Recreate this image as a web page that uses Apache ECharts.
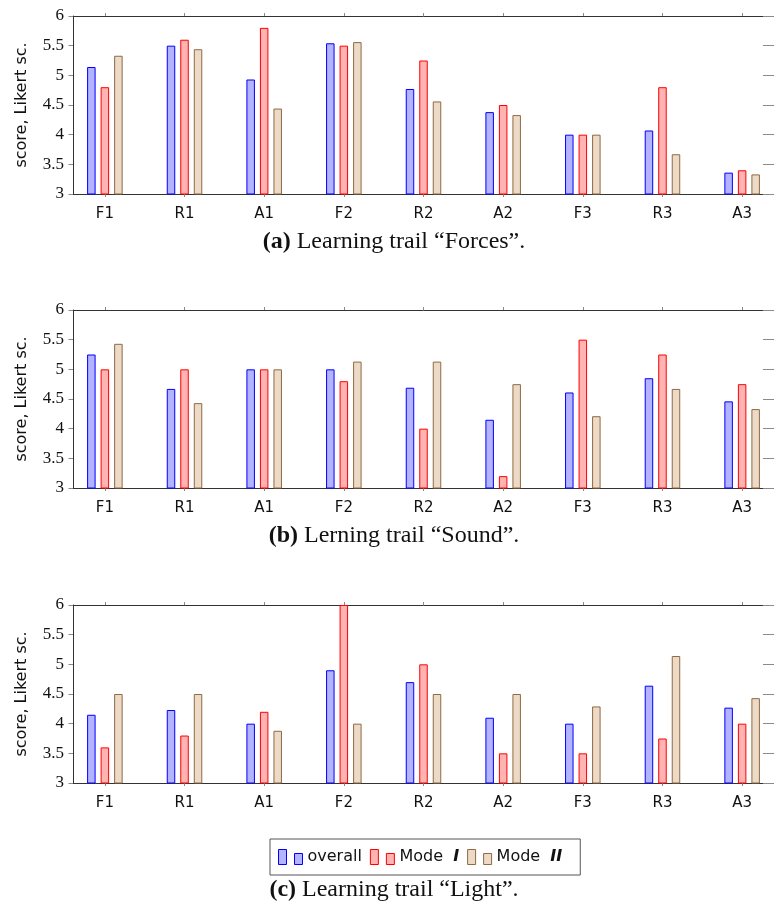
<!DOCTYPE html>
<html>
<head>
<meta charset="utf-8">
<script src="https://cdn.jsdelivr.net/npm/echarts@6/dist/echarts.min.js"></script>
<style>
  html, body { margin: 0; padding: 0; background: #ffffff; }
  #chart { width: 774px; height: 918px; }
</style>
</head>
<body>
<div id="chart"></div>
<script>
// Learning-trail stations shown on the x axis
const categories = ['F1', 'R1', 'A1', 'F2', 'R2', 'A2', 'F3', 'R3', 'A3'];
const seriesNames = ['overall', 'Mode I', 'Mode II'];

// Trail "Forces"
const forcesOverall = [5.14, 5.5, 4.93, 5.54, 4.77, 4.38, 4.0, 4.07, 3.36];
const forcesModeI   = [4.8, 5.6, 5.8, 5.5, 5.25, 4.5, 4.0, 4.8, 3.4];
const forcesModeII  = [5.33, 5.44, 4.44, 5.56, 4.56, 4.33, 4.0, 3.67, 3.33];

// Trail "Sound"
const soundOverall = [5.25, 4.67, 5.0, 5.0, 4.69, 4.15, 4.61, 4.85, 4.46];
const soundModeI   = [5.0, 5.0, 5.0, 4.8, 4.0, 3.2, 5.5, 5.25, 4.75];
const soundModeII  = [5.43, 4.43, 5.0, 5.13, 5.13, 4.75, 4.21, 4.67, 4.33];

// Trail "Light"
const lightOverall = [4.15, 4.23, 4.0, 4.9, 4.7, 4.1, 4.0, 4.64, 4.27];
const lightModeI   = [3.6, 3.8, 4.2, 6.0, 5.0, 3.5, 3.5, 3.75, 4.0];
const lightModeII  = [4.5, 4.5, 3.88, 4.0, 4.5, 4.5, 4.29, 5.14, 4.43];

// Score axis
const yMin = 3;
const yMax = 6;
const yStep = 0.5;
const yAxisTitle = 'score, Likert sc.';

// Sub-figure captions
const captionTags = ['(a)', '(b)', '(c)'];
const captionTexts = ['Learning trail \u201cForces\u201d.', 'Lerning trail \u201cSound\u201d.', 'Learning trail \u201cLight\u201d.'];

const panels = [
  [forcesOverall, forcesModeI, forcesModeII],
  [soundOverall, soundModeI, soundModeII],
  [lightOverall, lightModeI, lightModeII]
];

// ---- styling / layout ----
const fills   = ['#b3b3ff', '#ffb3b3', '#ecd9c6'];
const strokes = ['#0000ff', '#ff0000', '#8f6a45'];
const gridTops = [16, 310, 605];
const gridHeight = 178;
const gridLeft = 73;
const gridWidth = 706;   // right frame edge lies just past the canvas
const sansFont = 'DejaVu Sans';
const serifFont = 'Liberation Serif';
const frameColor = '#333333';
const tickColor = '#8a8a8a';
const captionY = [242, 536, 890];
const captionX = 394;

const catIdx = categories.map((_, i) => i);

const chart = echarts.init(document.getElementById('chart'), null, { renderer: 'canvas' });

const grids = [], xAxes = [], yAxes = [], series = [];

panels.forEach((panel, p) => {
  grids.push({ left: gridLeft, width: gridWidth, top: gridTops[p], height: gridHeight, containLabel: false });

  // bottom category axis (numeric positions so the outer margin can be set freely)
  xAxes.push({
    type: 'value', gridIndex: p, position: 'bottom',
    min: -0.4, max: categories.length - 1 + 0.4,
    axisLine: { show: true, onZero: false, lineStyle: { color: frameColor, width: 1 } },
    axisTick: { show: true, customValues: catIdx, length: 3, lineStyle: { color: tickColor } },
    axisLabel: {
      show: true, customValues: catIdx, margin: 13,
      formatter: v => categories[Math.round(v)],
      fontFamily: sansFont, fontSize: 15, color: '#111'
    },
    splitLine: { show: false }
  });
  // top frame edge
  xAxes.push({
    type: 'value', gridIndex: p, position: 'top',
    min: -0.4, max: categories.length - 1 + 0.4,
    axisLine: { show: true, onZero: false, lineStyle: { color: frameColor, width: 1 } },
    axisTick: { show: true, customValues: catIdx, length: 3, lineStyle: { color: tickColor } },
    axisLabel: { show: false },
    splitLine: { show: false }
  });
  // left score axis
  yAxes.push({
    type: 'value', gridIndex: p, position: 'left',
    min: yMin, max: yMax, interval: yStep,
    name: yAxisTitle, nameLocation: 'middle', nameGap: 43, nameRotate: 90,
    nameTextStyle: { fontFamily: sansFont, fontSize: 16, color: '#111' },
    axisLine: { show: true, onZero: false, lineStyle: { color: frameColor, width: 1 } },
    axisTick: { show: true, length: 4.5, lineStyle: { color: tickColor } },
    axisLabel: { show: true, margin: 9, fontFamily: serifFont, fontSize: 17, color: '#111' },
    splitLine: { show: false }
  });
  // right frame edge
  yAxes.push({
    type: 'value', gridIndex: p, position: 'right',
    min: yMin, max: yMax, interval: yStep,
    axisLine: { show: true, onZero: false, lineStyle: { color: frameColor, width: 1 } },
    axisTick: { show: true, inside: true, length: 11, lineStyle: { color: tickColor } },
    axisLabel: { show: false },
    splitLine: { show: false }
  });

  panel.forEach((values, s) => {
    series.push({
      type: 'bar',
      name: seriesNames[s],
      xAxisIndex: p * 2,
      yAxisIndex: p * 2,
      data: values.map((v, i) => [i, v]),
      barWidth: 8.5,
      barGap: '59%',
      itemStyle: { color: fills[s], borderColor: strokes[s], borderWidth: 1 },
      emphasis: { disabled: true },
      animation: false
    });
  });
});

const legendIcon = 'path://M0,0 L8,0 L8,15 L0,15 Z M16,4 L24,4 L24,15 L16,15 Z';

chart.setOption({
  animation: false,
  grid: grids,
  xAxis: xAxes,
  yAxis: yAxes,
  series: series,
  legend: {
    data: seriesNames.map(n => ({ name: n, icon: legendIcon })),
    left: 270, top: 839,
    orient: 'horizontal',
    itemWidth: 24, itemHeight: 15, itemGap: 8,
    padding: [10, 18, 10, 8],
    borderColor: '#555555', borderWidth: 1,
    selectedMode: false,
    itemStyle: { borderWidth: 1 },
    formatter: name => name.replace(/ (I+)$/, '  {r|$1}'),
    textStyle: {
      fontFamily: sansFont, fontSize: 16, color: '#111',
      rich: { r: { fontFamily: sansFont, fontSize: 16, fontStyle: 'italic', fontWeight: 'bold', color: '#111' } }
    }
  },
  graphic: captionTags.map((tag, i) => ({
    type: 'text',
    x: captionX, y: captionY[i],
    style: {
      text: '{b|' + tag + '} ' + captionTexts[i],
      align: 'center', verticalAlign: 'middle',
      fontFamily: serifFont, fontSize: 24, fill: '#111',
      rich: { b: { fontFamily: serifFont, fontSize: 24, fontWeight: 'bold', fill: '#111' } }
    }
  }))
});
</script>
</body>
</html>
